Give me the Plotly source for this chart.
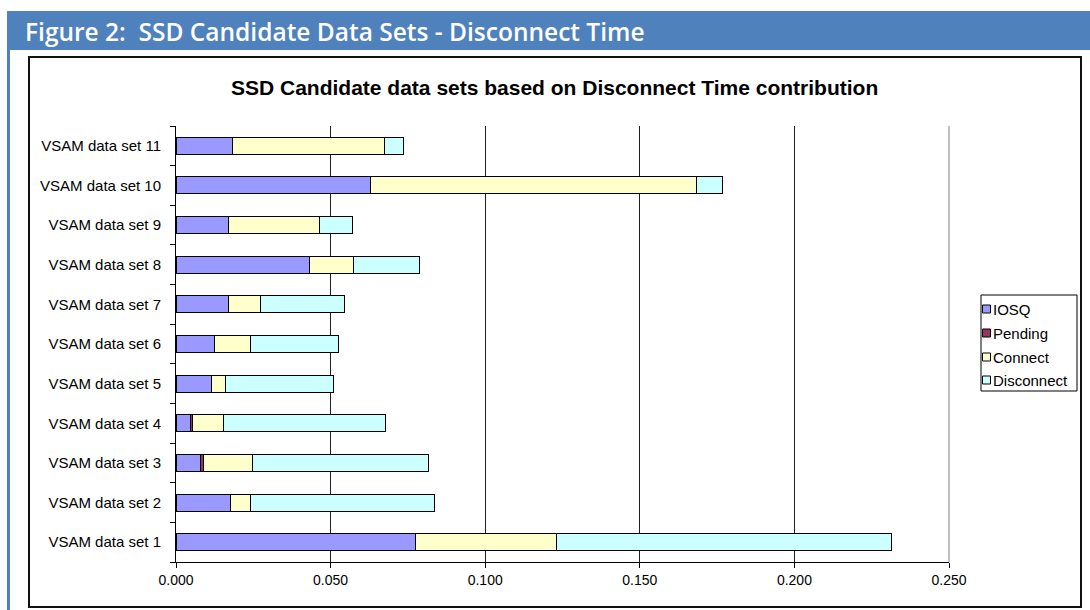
import plotly.graph_objects as go

# ---- data ----
categories = [f"VSAM data set {i}" for i in range(1, 12)]
series_names = ["IOSQ", "Pending", "Connect", "Disconnect"]
iosq       = [0.0774, 0.0175, 0.0079, 0.0047, 0.0116, 0.0124, 0.0171, 0.0431, 0.0171, 0.0630, 0.0182]
pending    = [0.0000, 0.0000, 0.0009, 0.0005, 0.0000, 0.0000, 0.0000, 0.0000, 0.0000, 0.0000, 0.0000]
connect    = [0.0458, 0.0066, 0.0160, 0.0101, 0.0045, 0.0117, 0.0103, 0.0143, 0.0294, 0.1053, 0.0492]
disconnect = [0.1081, 0.0594, 0.0569, 0.0525, 0.0348, 0.0284, 0.0272, 0.0213, 0.0105, 0.0085, 0.0062]
x_tickvals = [0.0, 0.05, 0.10, 0.15, 0.20, 0.25]

colors = ["#9999FF", "#993366", "#FFFFCC", "#CCFFFF"]
values = [iosq, pending, connect, disconnect]

W, H = 1090, 610
def px(x):
    return x / W
def py(y):
    return 1 - y / H

FONT = "Liberation Sans, Arial, sans-serif"

fig = go.Figure()
for name, vals, col in zip(series_names, values, colors):
    fig.add_trace(go.Bar(
        y=categories, x=vals, name=name, orientation="h",
        marker=dict(color=col, line=dict(color="black", width=1)),
        showlegend=False,
    ))

shapes = [
    # header band
    dict(type="rect", xref="paper", yref="paper", x0=px(7), x1=px(1090), y0=py(50), y1=py(11),
         fillcolor="#4F81BD", line=dict(width=0), layer="below"),
    # left blue rule
    dict(type="rect", xref="paper", yref="paper", x0=px(7), x1=px(10), y0=py(610), y1=py(50),
         fillcolor="#4F81BD", line=dict(width=0), layer="below"),
    # chart box
    dict(type="rect", xref="paper", yref="paper", x0=px(29), x1=px(1081), y0=py(607), y1=py(57),
         fillcolor="white", line=dict(color="#111111", width=2), layer="below"),
    # plot area right border
    dict(type="line", xref="paper", yref="paper", x0=px(949), x1=px(949), y0=py(562), y1=py(126),
         line=dict(color="#808080", width=1)),
    # legend box
    dict(type="rect", xref="paper", yref="paper", x0=px(981), x1=px(1077), y0=py(391), y1=py(295),
         fillcolor="white", line=dict(color="black", width=1)),
]
annotations = [
    dict(text="Figure 2:  SSD Candidate Data Sets - Disconnect Time", xref="paper", yref="paper",
         x=px(23), y=py(31), xanchor="left", yanchor="middle", showarrow=False,
         font=dict(family="Open Sans, sans-serif", size=24.5, color="white", weight=600)),
    dict(text="<b>SSD Candidate data sets based on Disconnect Time contribution</b>", xref="paper", yref="paper",
         x=px(555), y=py(87), xanchor="center", yanchor="middle", showarrow=False,
         font=dict(family=FONT, size=21, color="black")),
]
leg_y = [309, 333, 357, 380]
for name, col, yy in zip(series_names, colors, leg_y):
    shapes.append(dict(type="rect", xref="paper", yref="paper", x0=px(982.5), x1=px(990.5),
                       y0=py(yy + 4), y1=py(yy - 4), fillcolor=col, line=dict(color="black", width=1)))
    annotations.append(dict(text=name, xref="paper", yref="paper", x=px(991), y=py(yy),
                            xanchor="left", yanchor="middle", showarrow=False,
                            font=dict(family=FONT, size=15, color="black")))

fig.update_layout(
    width=W, height=H,
    margin=dict(l=0, r=0, t=0, b=0, pad=0),
    paper_bgcolor="white",
    plot_bgcolor="#C0C0C0",
    barmode="stack",
    bargap=0.57,
    shapes=shapes,
    annotations=annotations,
    font=dict(family=FONT, size=14, color="black"),
    xaxis=dict(
        domain=[px(176), px(949)], range=[0, 0.25], tickvals=x_tickvals, tickformat=".3f",
        showgrid=True, gridcolor="#202020", gridwidth=1, zeroline=False,
        showline=True, linecolor="black", linewidth=1, automargin=False,
        ticks="outside", ticklen=5, tickcolor="black", tickfont=dict(size=14),
        fixedrange=True,
    ),
    yaxis=dict(
        domain=[py(562), py(126)], type="category", categoryorder="array", categoryarray=categories,
        tickson="boundaries", ticks="outside", ticklen=5, tickcolor="black",
        showgrid=False, zeroline=False, showline=True, linecolor="black", linewidth=1,
        automargin=False, ticklabelstandoff=11,
        tickfont=dict(size=15), fixedrange=True,
    ),
)

fig.write_html(
    "out.html",
    config={"displayModeBar": False},
    post_script="document.body.style.margin='0';document.body.style.overflow='hidden';",
)
